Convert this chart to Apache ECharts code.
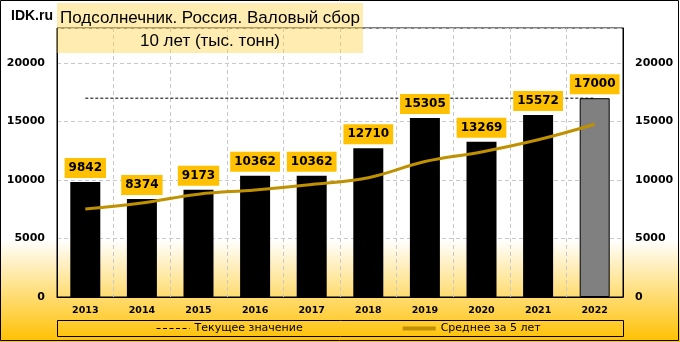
<!DOCTYPE html>
<html>
<head>
<meta charset="utf-8">
<script src="https://cdn.jsdelivr.net/npm/echarts@6/dist/echarts.min.js"></script>
<style>html,body{margin:0;padding:0;background:#fff}#c{width:680px;height:342px}</style>
</head>
<body>
<div id="c"></div>
<script>
const years = ['2013','2014','2015','2016','2017','2018','2019','2020','2021','2022'];
const harvest = [9842, 8374, 9173, 10362, 10362, 12710, 15305, 13269, 15572, 17000];
const current = [17000, 17000, 17000, 17000, 17000, 17000, 17000, 17000, 17000, 17000];
const avg5 = [7520, 8030, 8790, 9150, 9620, 10200, 11580, 12400, 13440, 14770];
const yTicks = [0, 5000, 10000, 15000, 20000];

const chart = echarts.init(document.getElementById('c'), null, {renderer: 'canvas'});
const lab = {fontFamily: 'DejaVu Sans', fontWeight: 'bold', fontSize: 11, color: '#000'};
const yAxisBase = {
  type: 'value', min: 0, max: 23000, interval: 5000,
  axisLine: {show: true, lineStyle: {color: '#000', width: 1}},
  axisTick: {show: false},
  axisLabel: Object.assign({margin: 12, showMaxLabel: false,
    formatter: v => yTicks.indexOf(v) >= 0 ? String(v) : ''}, lab)
};
chart.setOption({
  backgroundColor: new echarts.graphic.LinearGradient(0, 0, 0, 1, [
    {offset: 0, color: '#ffffff'}, {offset: 0.7, color: '#ffffff'}, {offset: 1, color: '#FFC000'}
  ]),
  animation: false,
  grid: {left: 57, right: 57, top: 28, bottom: 45, show: true, borderColor: '#000', borderWidth: 1, backgroundColor: 'transparent'},
  xAxis: {
    type: 'category', data: years, boundaryGap: true,
    axisLine: {lineStyle: {color: '#000'}},
    axisTick: {show: false},
    axisLabel: {fontFamily: 'DejaVu Sans', fontWeight: 'bold', fontSize: 9.5, color: '#000', margin: 9},
    splitLine: {show: true, lineStyle: {color: '#C8C8C8', type: [4, 3]}}
  },
  yAxis: [
    Object.assign({}, yAxisBase, {position: 'left', splitLine: {show: true, lineStyle: {color: '#C8C8C8', type: [4, 3]}}}),
    Object.assign({}, yAxisBase, {position: 'right', splitLine: {show: false}})
  ],
  legend: {
    left: 156, top: 323, padding: 0, itemGap: 98, itemWidth: 33, itemHeight: 12,
    itemStyle: {opacity: 0},
    lineStyle: {width: 'inherit'},
    textStyle: {fontFamily: 'DejaVu Sans', fontSize: 11, color: '#000'},
    data: [
      {name: 'Текущее значение', lineStyle: {type: [4, 2.5], width: 1}},
      {name: 'Среднее за 5 лет', lineStyle: {width: 4}}
    ]
  },
  series: [
    {
      name: 'Текущее значение', type: 'line', data: current, symbol: 'none',
      lineStyle: {color: '#000', width: 1, type: [3, 2]}, itemStyle: {color: '#000'}, z: 1
    },
    {
      name: 'Валовый сбор', type: 'bar', barWidth: 30, z: 2,
      data: harvest.map((v, i) => i === harvest.length - 1
        ? {value: v, itemStyle: {color: '#808080', borderColor: '#000', borderWidth: 1}}
        : v),
      itemStyle: {color: '#000'},
      label: {
        show: true, position: 'top', distance: 4,
        backgroundColor: '#FFC000', padding: [4, 4, 4, 4],
        fontFamily: 'DejaVu Sans', fontWeight: 'bold', fontSize: 12, color: '#000'
      }
    },
    {
      name: 'Среднее за 5 лет', type: 'line', data: avg5, symbol: 'none', smooth: 0.4, z: 3,
      lineStyle: {color: '#BF9000', width: 3}, itemStyle: {color: '#BF9000'}
    }
  ],
  graphic: [
    {type: 'rect', shape: {x: 57, y: 3, width: 306, height: 50}, style: {fill: 'rgba(255,204,51,0.38)'}, z: 100},
    {type: 'text', x: 210, y: 18, style: {text: 'Подсолнечник. Россия. Валовый сбор', font: '17px "Liberation Sans"', fill: '#000', align: 'center', verticalAlign: 'middle'}, z: 101},
    {type: 'text', x: 210, y: 41, style: {text: '10 лет (тыс. тонн)', font: '17px "Liberation Sans"', fill: '#000', align: 'center', verticalAlign: 'middle'}, z: 101},
    {type: 'text', x: 11, y: 16, style: {text: 'IDK.ru', font: 'bold 14px "Liberation Sans"', fill: '#000', align: 'left', verticalAlign: 'middle'}, z: 101},
    {type: 'rect', shape: {x: 57.5, y: 320.5, width: 566, height: 16}, style: {fill: 'none', stroke: '#000', lineWidth: 1}, z: 100},
    {type: 'rect', shape: {x: 0.5, y: 0.5, width: 678, height: 340}, style: {fill: 'none', stroke: '#000', lineWidth: 1}, z: 100}
  ]
});
</script>
</body>
</html>
